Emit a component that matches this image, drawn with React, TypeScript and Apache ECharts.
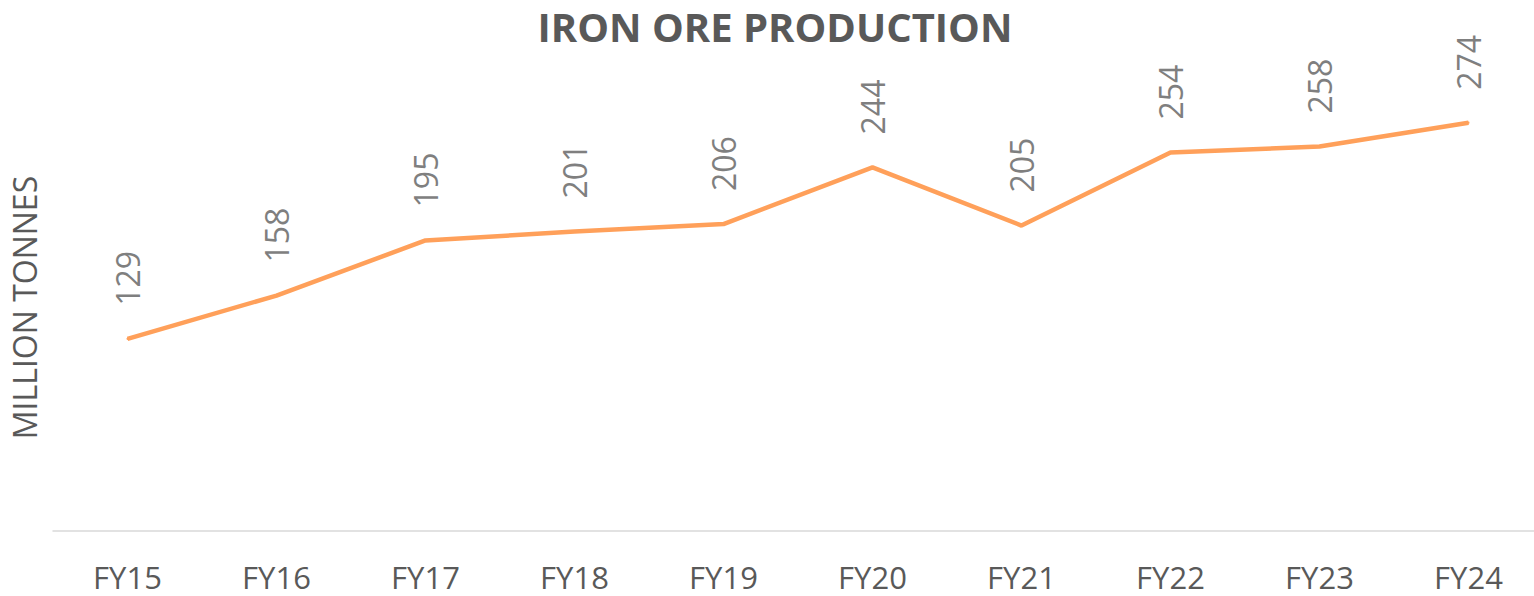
import React, { useEffect, useRef } from "react";
import * as echarts from "echarts";

const categories = ["FY15", "FY16", "FY17", "FY18", "FY19", "FY20", "FY21", "FY22", "FY23", "FY24"];
const production = [129, 158, 195, 201, 206, 244, 205, 254, 258, 274];
const titleText = "IRON ORE PRODUCTION";
const yAxisName = "MILLION TONNES";

export default function App() {
  const ref = useRef<HTMLDivElement>(null);
  useEffect(() => {
    if (!ref.current) return;
    const chart = echarts.init(ref.current, null, { renderer: "svg" });
    chart.setOption({
      animation: false,
      backgroundColor: "#ffffff",
      title: {
        text: titleText,
        top: 1,
        left: 770,
        textAlign: "center",
        textStyle: {
          fontFamily: "Open Sans",
          fontWeight: "bold",
          fontSize: 40,
          color: "#595959",
        },
      },
      grid: { left: 53, right: 0, top: 84, bottom: 65 },
      xAxis: {
        type: "category",
        data: categories,
        boundaryGap: true,
        axisLine: { lineStyle: { color: "#d9d9d9", width: 1.5 } },
        axisTick: { show: false },
        axisLabel: {
          margin: 30,
          fontFamily: "Open Sans",
          fontSize: 31,
          color: "#595959",
        },
      },
      yAxis: {
        type: "value",
        min: 0,
        max: 300,
        name: yAxisName,
        nameLocation: "middle",
        nameGap: 13,
        nameRotate: 90,
        nameTextStyle: {
          fontFamily: "Open Sans",
          fontSize: 32,
          color: "#595959",
        },
        axisLine: { show: false },
        axisTick: { show: false },
        axisLabel: { show: false },
        splitLine: { show: false },
      },
      series: [
        {
          type: "line",
          data: production,
          symbol: "circle",
          symbolSize: 2,
          showSymbol: true,
          itemStyle: { color: "#FFA05A" },
          lineStyle: { color: "#FFA05A", width: 4.5 },
          label: {
            show: true,
            position: "top",
            distance: 32,
            rotate: 90,
            align: "left",
            verticalAlign: "middle",
            fontFamily: "Open Sans",
            fontSize: 32,
            color: "#7f7f7f",
          },
          labelLayout: { hideOverlap: false },
        },
      ],
    });
    return () => chart.dispose();
  }, []);
  return (
    <div style={{ position: "absolute", left: 0, top: 0, width: 1534, height: 596, overflow: "hidden" }}>
      <div ref={ref} style={{ width: 1543, height: 596 }} />
    </div>
  );
}
